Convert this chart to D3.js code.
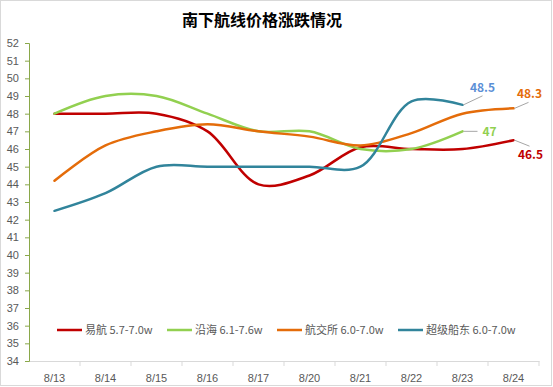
<!DOCTYPE html>
<html>
<head>
<meta charset="utf-8">
<script src="https://cdn.jsdelivr.net/npm/d3@7"></script>
<style>
  body { margin: 0; background: #fff; }
  svg { font-family: "Noto Sans CJK SC", "Noto Sans", sans-serif; }
</style>
</head>
<body>
<script>
// categories (dates) and series values
var dates = ["8/13", "8/14", "8/15", "8/16", "8/17", "8/20", "8/21", "8/22", "8/23", "8/24"];
var yiHang = [48, 48, 48, 47, 44, 44.5, 46.1, 46, 46, 46.5];
var yanHai = [48, 49, 49, 48, 47, 47, 46, 46, 47];
var hangJiaoSuo = [44.2, 46.2, 47, 47.4, 47, 46.7, 46.2, 46.9, 48, 48.3];
var chaoJi = [42.5, 43.5, 45, 45, 45, 45, 45, 48.7, 48.5];
var seriesNames = ["易航 5.7-7.0w", "沿海 6.1-7.6w", "航交所 6.0-7.0w", "超级船东 6.0-7.0w"];
var yTicks = d3.range(34, 53, 1);

var w = 553, h = 387;
var colors = ["#c00000", "#92d050", "#e46c0a", "#31849b"];
var labelColors = ["#c00000", "#92d050", "#e46c0a", "#5b8fd6"];

var series = [yiHang, yanHai, hangJiaoSuo, chaoJi].map(function(vals, i) {
  return { name: seriesNames[i], color: colors[i], labelColor: labelColors[i],
           values: vals.map(function(v, j) { return { date: dates[j], value: v }; }) };
});

var svg = d3.select("body").append("svg").attr("width", w).attr("height", h);

// outer border
svg.append("rect").attr("x", 0.5).attr("y", 0.5).attr("width", w - 2).attr("height", h - 2)
   .attr("fill", "#fff").attr("stroke", "#d9d9d9");

// title
svg.append("text").attr("x", 262).attr("y", 26).attr("text-anchor", "middle")
   .attr("font-size", "16px").attr("font-weight", "bold").attr("fill", "#000")
   .text("南下航线价格涨跌情况");

var xScale = d3.scaleBand().domain(dates).range([29, 539]);
var yScale = d3.scaleLinear().domain([34, 52]).range([361, 43]);
var cx = function(d) { return xScale(d) + xScale.bandwidth() / 2; };

// x axis
var xAxis = svg.append("g").attr("transform", "translate(0,361)")
  .call(d3.axisBottom(xScale).tickSize(0).tickPadding(13));
xAxis.select(".domain").attr("stroke", "#d9d9d9");
xAxis.selectAll("text").attr("font-size", "11px").attr("fill", "#595959");
xAxis.selectAll(".bt").data(dates).enter().append("line")
  .attr("x1", function(d) { return xScale(d) + xScale.bandwidth(); })
  .attr("x2", function(d) { return xScale(d) + xScale.bandwidth(); })
  .attr("y1", 0).attr("y2", 5).attr("stroke", "#d9d9d9");

// y axis
var yAxis = svg.append("g").attr("transform", "translate(29,0)")
  .call(d3.axisLeft(yScale).tickValues(yTicks).tickSize(4).tickPadding(6).tickFormat(d3.format("d")));
yAxis.select(".domain").attr("stroke", "#8aa84a");
yAxis.selectAll(".tick line").attr("stroke", "#8aa84a");
yAxis.selectAll("text").attr("font-size", "11px").attr("fill", "#595959");

// lines
var line = d3.line()
  .x(function(d) { return cx(d.date); })
  .y(function(d) { return yScale(d.value); })
  .curve(d3.curveCatmullRom.alpha(0.5));

svg.selectAll(".series").data(series).enter().append("path")
  .attr("d", function(d) { return line(d.values); })
  .attr("fill", "none").attr("stroke", function(d) { return d.color; })
  .attr("stroke-width", 2.5).attr("stroke-linecap", "round");

// end labels with leader lines: [leader dx, leader dy, label dx, label dy]
var labelOffsets = [[16, 6, 17, 15], [15, 0, 27, 0], [15, -6, 16, -15], [20, -9, 20, -17]];
series.forEach(function(s, i) {
  var last = s.values[s.values.length - 1];
  var px = cx(last.date), py = yScale(last.value);
  var o = labelOffsets[i];
  svg.append("line").attr("x1", px + 1).attr("y1", py).attr("x2", px + o[0]).attr("y2", py + o[1])
     .attr("stroke", "#a6a6a6").attr("stroke-width", 1);
  svg.append("text").attr("x", px + o[2]).attr("y", py + o[3]).attr("dy", "0.35em")
     .attr("text-anchor", "middle")
     .attr("font-size", "12px").attr("font-weight", "bold").attr("fill", s.labelColor)
     .text(last.value);
});

// legend
var legendX = [57, 167, 277, 398];
var legend = svg.selectAll(".legend").data(series).enter().append("g")
  .attr("transform", function(d, i) { return "translate(" + legendX[i] + ",330)"; });
legend.append("line").attr("x1", 0).attr("x2", 25).attr("y1", 0).attr("y2", 0)
  .attr("stroke", function(d) { return d.color; }).attr("stroke-width", 2.5);
legend.append("text").attr("x", 28).attr("dy", "0.35em").attr("font-size", "11px")
  .attr("fill", "#595959").text(function(d) { return d.name; });
</script>
</body>
</html>
